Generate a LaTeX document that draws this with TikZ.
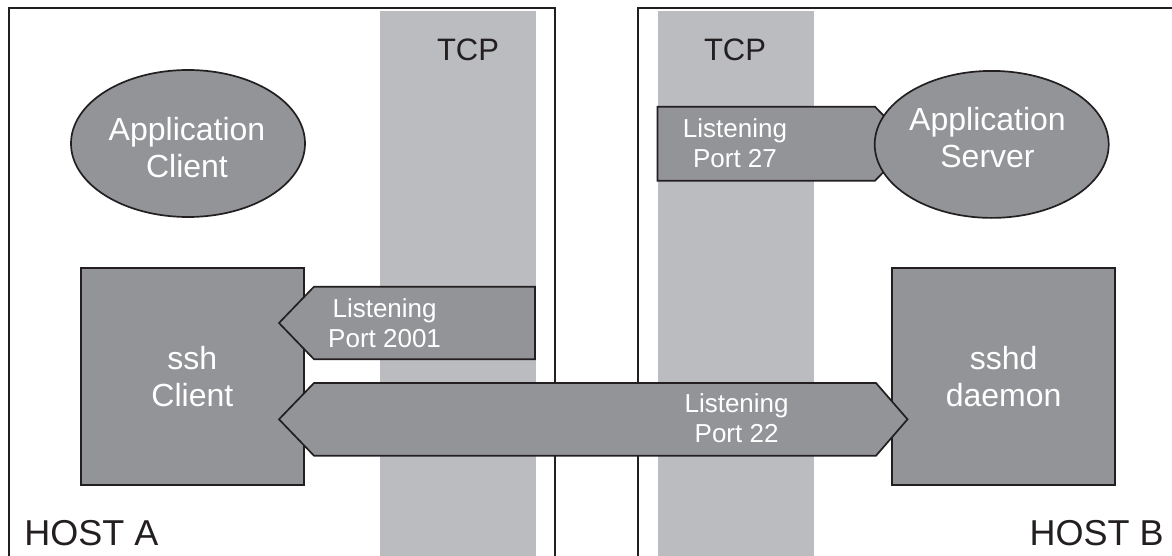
\documentclass[tikz,border=0pt]{standalone}
\usepackage{fontspec}
\setmainfont{Liberation Sans}
\usetikzlibrary{shapes.geometric}

\definecolor{boxgray}{HTML}{939498}
\definecolor{bandgray}{HTML}{BBBCC0}
\definecolor{inkblack}{HTML}{231F20}

\begin{document}
\begin{tikzpicture}[x=0.5pt, y=-0.5pt,
    hostline/.style={draw=inkblack, line width=1pt},
    block/.style={draw=inkblack, line width=0.85pt, fill=boxgray, text=white, align=center, inner sep=0pt,
        font=\fontsize{16}{18.5}\selectfont},
    appnode/.style={block, ellipse, minimum width=117pt, minimum height=73.5pt},
    apptext/.style={text=white, align=center, inner sep=0pt, font=\fontsize{16}{18.5}\selectfont},
    portarrow/.style={draw=inkblack, line width=0.85pt, fill=boxgray, line join=miter},
    portlabel/.style={text=white, align=center, inner sep=0pt, font=\fontsize{13}{15}\selectfont},
    tcplabel/.style={text=inkblack, inner sep=0pt, anchor=base, font=\fontsize{15.5}{18}\selectfont},
    hostlabel/.style={text=inkblack, inner sep=0pt, font=\fontsize{18}{20}\selectfont}]
    \useasboundingbox (0,0) rectangle (1172,556);

    % TCP bands
    \fill[bandgray] (380,11) rectangle (536,556);
    \fill[bandgray] (658,11) rectangle (814,556);

    % Hosts
    \draw[hostline] (9.3,556) -- (9.3,8.3) -- (555,8.3) -- (555,556);
    \draw[hostline] (1172,8.3) -- (638,8.3) -- (638,556);
    \node[hostlabel, anchor=base west] (hosta) at (24,545) {HOST A};
    \node[hostlabel, anchor=base east] (hostb) at (1164,545) {HOST B};
    \node[tcplabel] (tcpa) at (468,61) {TCP};
    \node[tcplabel] (tcpb) at (735,61) {TCP};

    % Applications
    \node[appnode] (appclient) at (188,143.5) {};
    \node[apptext] (appclienttext) at (187,148) {Application\\Client};
    \draw[portarrow] (657.4,106.7) -- (875,106.7) -- (911,143.7) -- (875,180.7) -- (657.4,180.7) -- cycle;
    \node[portlabel] (port27) at (735,143.5) {Listening\\Port 27};
    \node[appnode] (appserver) at (991.7,144.4) {};
    \node[apptext] (appservertext) at (987.5,137.8) {Application\\Server};

    % ssh ends
    \node[block, minimum width=111.65pt, minimum height=108.65pt] (sshclient) at (192.35,376.65) {ssh\\Client};
    \node[block, minimum width=111.65pt, minimum height=108.65pt] (sshd) at (1003.65,376.65) {sshd\\daemon};

    % Forwarded ports
    \draw[portarrow] (535,286.7) -- (314,286.7) -- (279,323) -- (314,359.3) -- (535,359.3) -- cycle;
    \node[portlabel] (port2001) at (384.6,323) {Listening\\Port 2001};
    \draw[portarrow] (279,419.3) -- (314,383) -- (876,383) -- (907.5,419.3) -- (876,455.7) -- (314,455.7) -- cycle;
    \node[portlabel] (port22) at (736.6,418) {Listening\\Port 22};
\end{tikzpicture}
\end{document}
